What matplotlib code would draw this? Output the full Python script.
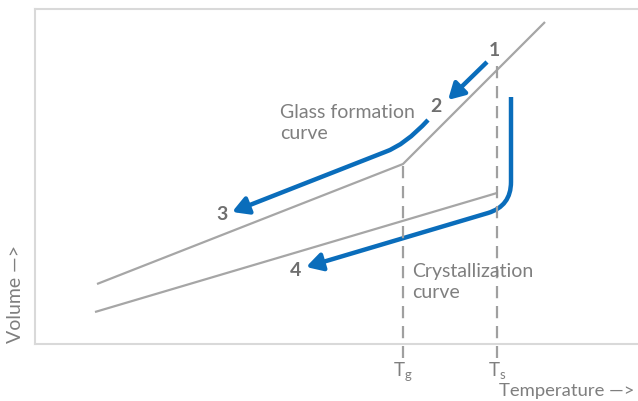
import matplotlib
matplotlib.use("Agg")
from matplotlib import pyplot as plt
from matplotlib.patches import FancyArrowPatch
from matplotlib.path import Path

# values (x = temperature, y = volume, pixel-like units)
glass_x = [97, 403, 545]
glass_y = [284, 164, 22]
crystal_x = [95, 497]
crystal_y = [312, 193]
tg = 403
ts = 497
tg_top = 166
ts_top = 66

# blue cooling paths (vertices of curves)
arrow12 = [(487, 62), (448, 100)]
glass_path = [(428, 120), (405, 145), (385, 152), (232, 212)]
crystal_path = [(511, 97), (511, 182), (511, 206), (488, 213), (306, 267)]

labels = ["1", "2", "3", "4"]
label_x = [494, 436, 222, 296]
label_y = [50, 107, 215, 270]

gray = "#a6a6a6"
dash_gray = "#a0a0a0"
blue = "#0a6dbb"
text_gray = "#7f7f7f"

plt.rcParams['font.family'] = ['Lato', 'DejaVu Sans']
plt.rcParams['mathtext.fontset'] = 'custom'
plt.rcParams['mathtext.rm'] = 'Lato'

fig = plt.figure(figsize=(6.38, 4.01), dpi=100)
ax = fig.add_axes([35/638, (401-344)/401, (638-35)/638, (344-9)/401])
ax.set_xlim(35, 638)
ax.set_ylim(344, 9)
for s in ["left", "top", "bottom"]:
    ax.spines[s].set_color("#d9d9d9")
    ax.spines[s].set_linewidth(1.5)
ax.spines["right"].set_visible(False)
ax.set_yticks([])
ax.set_xticks([tg, ts])
ax.set_xticklabels([r"T$_{\rm g}$", r"T$_{\rm s}$"], fontsize=13.5, color=text_gray)
ax.tick_params(axis="x", length=0, pad=12)

ax.plot(glass_x, glass_y, color=gray, lw=1.6, solid_capstyle="butt")
ax.plot(crystal_x, crystal_y, color=gray, lw=1.6, solid_capstyle="butt")

ax.plot([tg, tg], [tg_top, 358], color=dash_gray, lw=1.6, ls=(0, (5.5, 3.5)), clip_on=False)
ax.plot([ts, ts], [ts_top, 358], color=dash_gray, lw=1.6, ls=(0, (5.5, 3.5)), clip_on=False)

style = "-|>,head_length=0.8,head_width=0.45"


def blue_arrow(verts, codes):
    p = FancyArrowPatch(path=Path(verts, codes), arrowstyle=style, mutation_scale=12,
                        color=blue, lw=3.2, capstyle="butt", joinstyle="round")
    ax.add_patch(p)


blue_arrow(arrow12, [Path.MOVETO, Path.LINETO])
blue_arrow(glass_path, [Path.MOVETO, Path.CURVE3, Path.CURVE3, Path.LINETO])
blue_arrow(crystal_path, [Path.MOVETO, Path.LINETO, Path.CURVE3, Path.CURVE3, Path.LINETO])

for t, x, y in zip(labels, label_x, label_y):
    ax.text(x, y, t, fontsize=14, fontweight="bold", color="#6f6f6f", ha="center", va="center")

ax.text(280, 123, "Glass formation\ncurve", fontsize=14, color=text_gray, ha="left",
        va="center", linespacing=1.25)
ax.text(412, 282, "Crystallization\ncurve", fontsize=14, color=text_gray, ha="left",
        va="center", linespacing=1.25)

fig.text(16/638, 1 - 294/401, "Volume —>", rotation=90, fontsize=14, color=text_gray,
         ha="center", va="center")
fig.text(499/638, 1 - 391/401, "Temperature —>", fontsize=13.3, color=text_gray,
         ha="left", va="center")

fig.savefig("out.png", dpi=100)
